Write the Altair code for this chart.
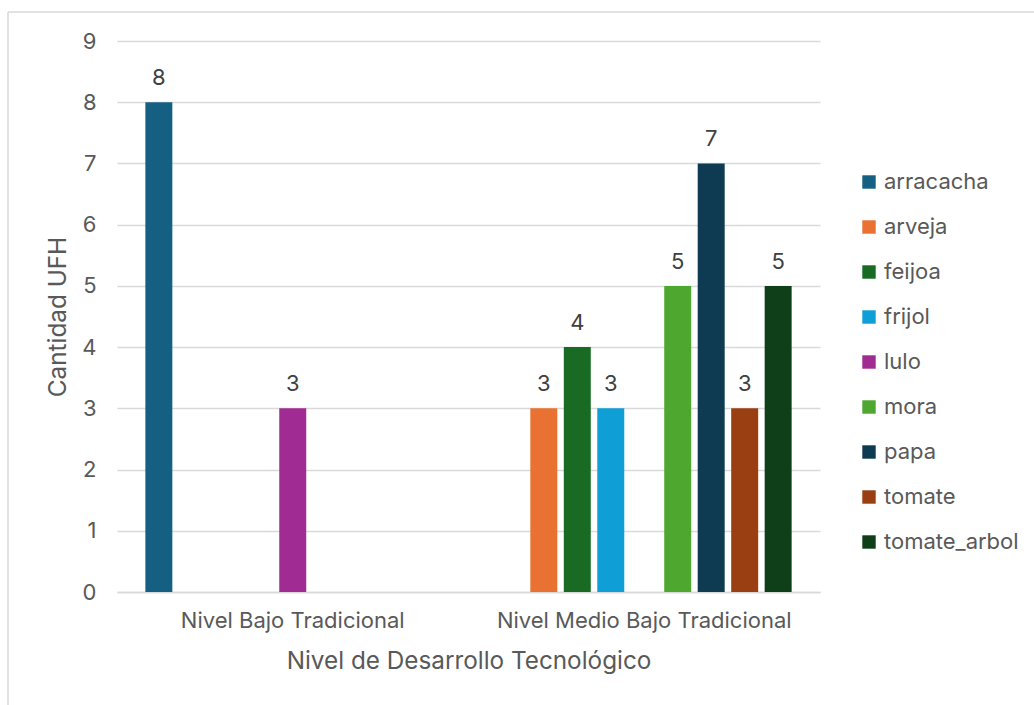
import altair as alt
import pandas as pd

# Series: crop, technological level, number of UFH
crops = ["arracacha", "arveja", "feijoa", "frijol", "lulo",
         "mora", "papa", "tomate", "tomate_arbol"]
colors = ["#156082", "#E97132", "#196B24", "#0F9ED5", "#A02B93",
          "#4EA72E", "#0E3A52", "#9A3F12", "#0F3F18"]
levels = ["Nivel Bajo Tradicional", "Nivel Medio Bajo Tradicional"]

bar_level = ["Nivel Bajo Tradicional", "Nivel Bajo Tradicional",
             "Nivel Medio Bajo Tradicional", "Nivel Medio Bajo Tradicional",
             "Nivel Medio Bajo Tradicional", "Nivel Medio Bajo Tradicional",
             "Nivel Medio Bajo Tradicional", "Nivel Medio Bajo Tradicional",
             "Nivel Medio Bajo Tradicional"]
bar_crop = ["arracacha", "lulo", "arveja", "feijoa", "frijol",
            "mora", "papa", "tomate", "tomate_arbol"]
bar_value = [8, 3, 3, 4, 3, 5, 7, 3, 5]

df = pd.DataFrame({"nivel": bar_level, "cultivo": bar_crop, "ufh": bar_value})

FONT = "Inter"
GRID = "#d9d9d9"
TXT = "#595959"
LABEL_SIZE = 22
TITLE_SIZE = 24.3

W, H = 703, 551
LEFT, TOP = 117, 41
RIGHT = 1034 - LEFT - W
BOTTOM = 705 - TOP - H

x_enc = alt.X("nivel:N", sort=levels,
              scale=alt.Scale(domain=levels, paddingInner=0, paddingOuter=0),
              axis=alt.Axis(title="Nivel de Desarrollo Tecnológico",
                            labelAngle=0, ticks=False, domain=True,
                            domainColor=GRID, domainWidth=1.5,
                            labelPadding=18, titlePadding=18, labelLimit=0,
                            labelFontSize=LABEL_SIZE, titleFontSize=TITLE_SIZE,
                            labelColor=TXT, titleColor=TXT,
                            labelFont=FONT, titleFont=FONT,
                            titleFontWeight="normal"))
xoff_enc = alt.XOffset("cultivo:N",
                       scale=alt.Scale(domain=crops, paddingInner=0.194,
                                       paddingOuter=0.847))
y_enc = alt.Y("ufh:Q",
              scale=alt.Scale(domain=[0, 9], nice=False),
              axis=alt.Axis(title="Cantidad UFH", values=list(range(10)),
                            format="d",
                            ticks=False, domain=False, grid=True,
                            gridColor=GRID, gridWidth=1.3,
                            labelPadding=21, titlePadding=11,
                            labelFontSize=LABEL_SIZE, titleFontSize=TITLE_SIZE,
                            labelColor=TXT, titleColor=TXT,
                            labelFont=FONT, titleFont=FONT,
                            titleFontWeight="normal"))

bars = alt.Chart(df).mark_bar().encode(
    x=x_enc,
    xOffset=xoff_enc,
    y=y_enc,
    color=alt.Color("cultivo:N",
                    scale=alt.Scale(domain=crops, range=colors),
                    legend=alt.Legend(title=None, orient="none",
                                      legendX=741, legendY=130,
                                      symbolType="square", symbolSize=180,
                                      symbolStrokeWidth=0,
                                      labelFontSize=LABEL_SIZE, labelFont=FONT,
                                      labelColor=TXT, labelOffset=4,
                                      rowPadding=23)),
)

labels = alt.Chart(df).mark_text(
    baseline="bottom", dy=-12, fontSize=LABEL_SIZE, font=FONT, color="#404040"
).encode(
    x=alt.X("nivel:N", sort=levels),
    xOffset=alt.XOffset("cultivo:N"),
    y="ufh:Q",
    text="ufh:Q",
)

# light frame around the whole figure (top and left edges)
frame_df = pd.DataFrame({"k": [0]})
frame_top = alt.Chart(frame_df).mark_rule(color=GRID, strokeWidth=1.5).encode(
    x=alt.value(8 - LEFT), x2=alt.value(1034 - LEFT + 5), y=alt.value(12 - TOP))
frame_left = alt.Chart(frame_df).mark_rule(color=GRID, strokeWidth=1.5).encode(
    x=alt.value(8 - LEFT), y=alt.value(12 - TOP), y2=alt.value(705 - TOP + 5))

chart = alt.layer(frame_top, frame_left, bars, labels).properties(
    width=W, height=H,
    autosize=alt.AutoSizeParams(type="none"),
    padding={"left": LEFT, "top": TOP, "right": RIGHT, "bottom": BOTTOM},
    background="white",
).configure_view(stroke=None)

chart.save("out.html", embed_options={"renderer": "svg", "actions": False})
